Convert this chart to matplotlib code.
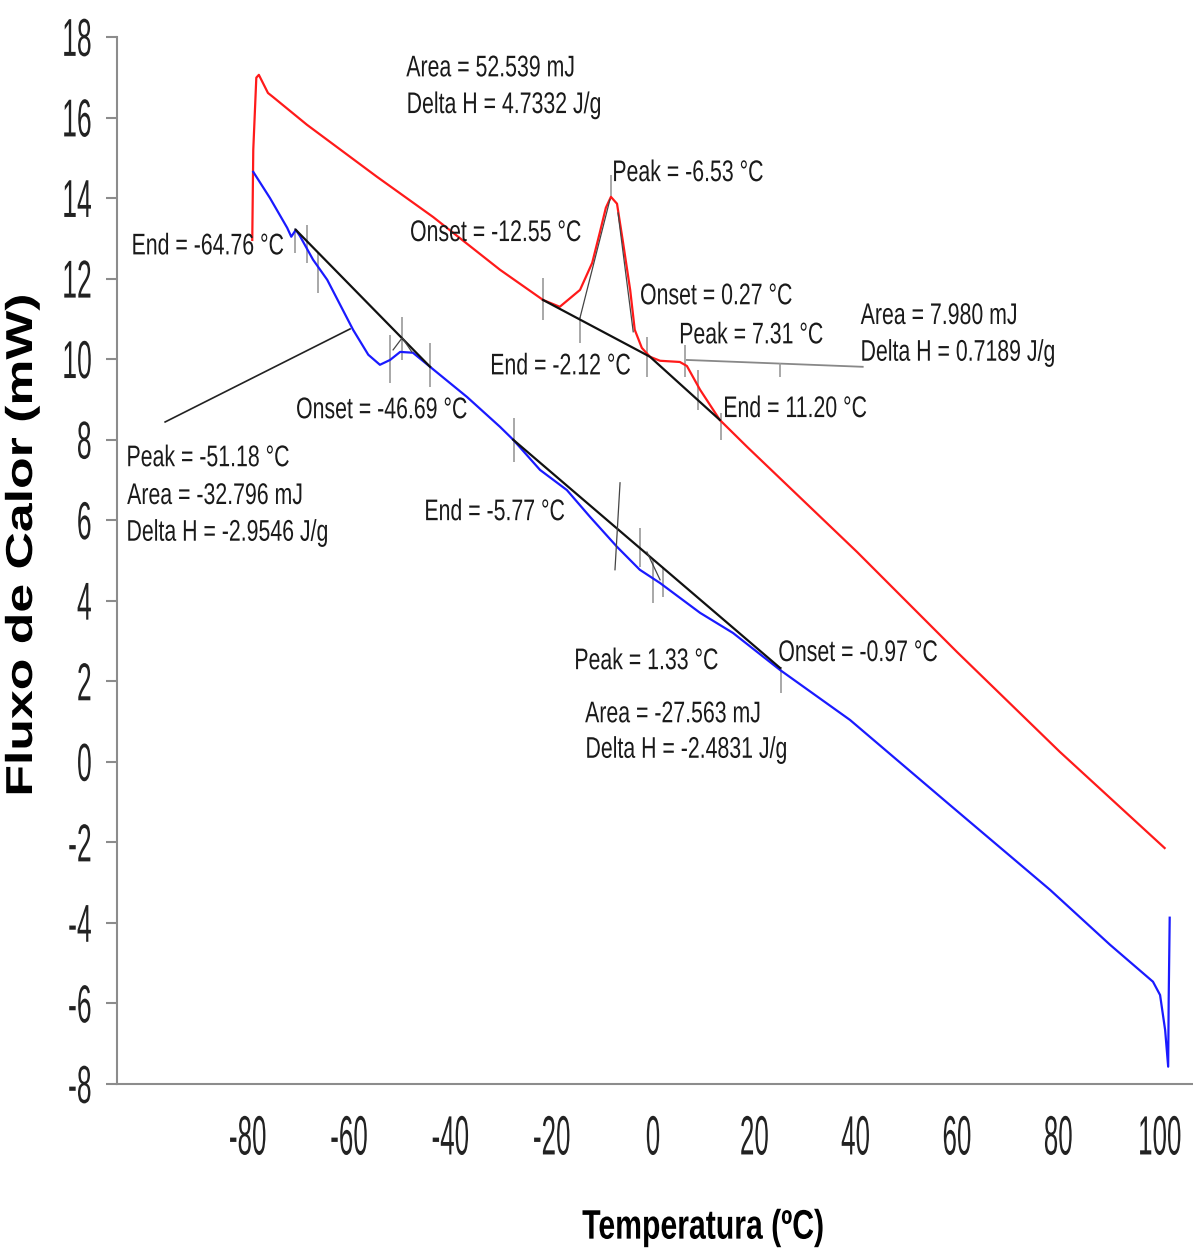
import matplotlib
matplotlib.use("Agg")
import matplotlib.pyplot as plt
from matplotlib import font_manager
from matplotlib.patheffects import AbstractPathEffect
from matplotlib.transforms import Affine2D

# ---- data ----
red_t = [-79.1, -78.9, -78.3, -77.8, -77.0, -76.0, -75.0, -68.3, -54.5, -43.4,
         -30.2, -21.7, -18.4, -14.4, -12.0, -10.5, -9.3, -8.3, -7.1, -5.9,
         -4.5, -3.6, -2.2, -0.6, 1.4, 5.3, 6.7, 9.3, 13.2, 18.6,
         40.3, 60.0, 80.3, 101.0]
red_v = [12.96, 15.2, 16.99, 17.06, 16.86, 16.61, 16.51, 15.82, 14.53, 13.53,
         12.22, 11.47, 11.30, 11.72, 12.39, 13.14, 13.76, 14.03, 13.86, 12.89,
         11.72, 10.73, 10.28, 10.06, 9.96, 9.93, 9.83, 9.24, 8.49, 7.82,
         5.21, 2.73, 0.25, -2.14]

blue_t = [-78.9, -75.6, -72.2, -71.4, -70.5, -69.7, -67.1, -64.3, -59.2, -56.2,
          -53.9, -51.9, -49.9, -47.4, -44.0, -36.7, -30.2, -27.6, -22.3, -17.0,
          -12.4, -7.1, -2.6, 1.4, 9.3, 15.8, 25.1, 38.9, 58.6, 78.4,
          90.2, 98.7, 100.1, 101.1, 101.7, 101.8, 102.0]
blue_v = [14.65, 14.0, 13.26, 13.04, 13.21, 13.06, 12.47, 11.97, 10.73, 10.11,
          9.86, 9.98, 10.18, 10.16, 9.81, 9.06, 8.32, 8.0, 7.25, 6.75,
          6.08, 5.34, 4.77, 4.44, 3.70, 3.20, 2.28, 1.04, -1.07, -3.18,
          -4.54, -5.46, -5.79, -6.66, -7.57, -5.91, -3.87]

# integration baselines (black)
base_t = [[-70.5, -44.0], [-27.6, 25.1], [-21.7, -0.6, 13.2]]
base_v = [[13.21, 9.81], [8.0, 2.33], [11.47, 10.06, 8.49]]

# onset tangents (thin)
tan_t = [[-14.4, -8.5], [-6.9, -3.9], [-51.3, -49.5, -47.6], [-1.2, 1.4], [-6.5, -7.5]]
tan_v = [[11.03, 13.96], [13.63, 10.68], [10.23, 10.53, 10.18], [5.21, 4.52], [6.93, 4.77]]

# leader lines for the labels
lead_t = [[-96.3, -59.8], [6.7, 41.4]]
lead_v = [[8.44, 10.75], [9.98, 9.81]]

# small vertical marks at onset / peak / end
mark_t = [-70.7, -68.3, -66.1, -51.9, -49.5, -44.0, -21.7, -14.4, -8.3, -1.2,
          6.3, 8.9, 13.4, 25.1, -27.4, -2.6, 0.0, 2.0, 25.3]
mark_lo = [12.64, 12.39, 11.65, 9.41, 9.98, 9.31, 10.98, 10.40, 14.03, 9.56,
           9.56, 8.74, 8.00, 9.56, 7.45, 4.84, 3.95, 4.10, 1.71]
mark_hi = [13.26, 13.33, 12.64, 10.60, 11.05, 10.40, 12.02, 11.05, 14.58, 10.55,
           10.35, 9.73, 8.67, 9.91, 8.54, 5.81, 5.02, 4.84, 2.36]

labels = ["Area = 52.539 mJ", "Delta H = 4.7332 J/g", "Peak = -6.53 °C",
          "Onset = -12.55 °C", "End = -64.76 °C", "Onset = 0.27 °C",
          "Area = 7.980 mJ", "Peak = 7.31 °C", "Delta H = 0.7189 J/g",
          "End = -2.12 °C", "End = 11.20 °C", "Onset = -46.69 °C",
          "Peak = -51.18 °C", "Area = -32.796 mJ", "Delta H = -2.9546 J/g",
          "End = -5.77 °C", "Peak = 1.33 °C", "Onset = -0.97 °C",
          "Area = -27.563 mJ", "Delta H = -2.4831 J/g"]
label_t = [-48.7, -48.7, -8.1, -48.0, -103.0, -2.6, 41.0, 5.1, 40.9, -32.2,
           13.8, -70.5, -104.0, -103.8, -104.0, -45.2, -15.6, 24.7, -13.4, -13.4]
label_v = [17.23, 16.31, 14.63, 13.14, 12.81, 11.57, 11.08, 10.6, 10.16, 9.83,
           8.77, 8.74, 7.55, 6.61, 5.69, 6.21, 2.51, 2.71, 1.19, 0.3]

xticks = [-80, -60, -40, -20, 0, 20, 40, 60, 80, 100]
yticks = list(range(-8, 19, 2))


class Stretch(AbstractPathEffect):
    """scale the glyph outlines (font units) about their ink box"""
    def __init__(self, sx=1.0, sy=1.0, anchor="center"):
        super().__init__()
        self.sx, self.sy, self.anchor = sx, sy, anchor

    def draw_path(self, renderer, gc, tpath, affine, rgbFace=None):
        e = tpath.get_extents()
        cx = {"left": e.x0, "center": (e.x0 + e.x1) / 2, "right": e.x1}[self.anchor]
        cy = (e.y0 + e.y1) / 2
        t = Affine2D().translate(-cx, -cy).scale(self.sx, self.sy).translate(cx, cy) + affine
        renderer.draw_path(gc, tpath, t, rgbFace)


names = {f.name for f in font_manager.fontManager.ttflist}
if "Liberation Sans Narrow" in names:
    NARROW, SX = "Liberation Sans Narrow", 1.0
else:
    NARROW, SX = "Liberation Sans", 0.82

fig = plt.figure(figsize=(11.93, 12.59), dpi=100)
ax = fig.add_axes([117 / 1193, 1 - 1084 / 1259, 1076 / 1193, 1047 / 1259])

ax.plot(red_t, red_v, color="#ff1a1a", lw=1.6, zorder=3)
ax.plot(blue_t, blue_v, color="#1a1aff", lw=1.6, zorder=3)
for t, v in zip(base_t, base_v):
    ax.plot(t, v, color="#111111", lw=1.6, zorder=4)
for t, v in zip(tan_t, tan_v):
    ax.plot(t, v, color="#444444", lw=0.9, zorder=4)
ax.plot(lead_t[0], lead_v[0], color="#222222", lw=1.2, zorder=2)
ax.plot(lead_t[1], lead_v[1], color="#888888", lw=1.3, zorder=2)
ax.vlines(mark_t, mark_lo, mark_hi, color="#9a9a9a", lw=1.2, zorder=2)

for s, t, v in zip(labels, label_t, label_v):
    ax.text(t, v, s, family=NARROW, fontsize=18.7, color="#1a1a1a",
            ha="left", va="center", zorder=5,
            path_effects=[Stretch(SX, 1.15, "left")])

ax.set_xlim(-105.8, 106.6)
ax.set_ylim(-8, 18)
ax.set_xticks(xticks)
ax.set_yticks(yticks)
ax.set_xticklabels([str(x) for x in xticks])
ax.set_yticklabels([str(y) for y in yticks])

for sp in ["top", "right"]:
    ax.spines[sp].set_visible(False)
for sp in ["left", "bottom"]:
    ax.spines[sp].set_color("#8c8c8c")
    ax.spines[sp].set_linewidth(1.5)

ax.tick_params(axis="y", length=8, width=1.5, color="#8c8c8c", pad=10)
ax.tick_params(axis="x", length=0, pad=28)
for lab in ax.get_yticklabels():
    lab.set_family(NARROW)
    lab.set_fontsize(24)
    lab.set_color("#222222")
    lab.set_path_effects([Stretch(SX * 0.97, 1.6, "right")])
for lab in ax.get_xticklabels():
    lab.set_family(NARROW)
    lab.set_fontsize(24)
    lab.set_color("#222222")
    lab.set_path_effects([Stretch(SX * 0.95, 1.66, "center")])

ax.set_xlabel("Temperatura (ºC)", family=NARROW, fontweight="bold", fontsize=26.5,
              path_effects=[Stretch(SX, 1.12, "center")])
ax.xaxis.set_label_coords((703 - 117) / 1076, (1084 - 1228) / 1047)
ax.xaxis.label.set_va("center")

ax.set_ylabel("Fluxo de Calor (mW)", family="Liberation Sans", fontweight="bold",
              fontsize=27, path_effects=[Stretch(1.38, 1.0, "center")])
ax.yaxis.set_label_coords((22 - 117) / 1076, (1084 - 545) / 1047)
ax.yaxis.label.set_va("center")

fig.savefig("out.png", dpi=100)
